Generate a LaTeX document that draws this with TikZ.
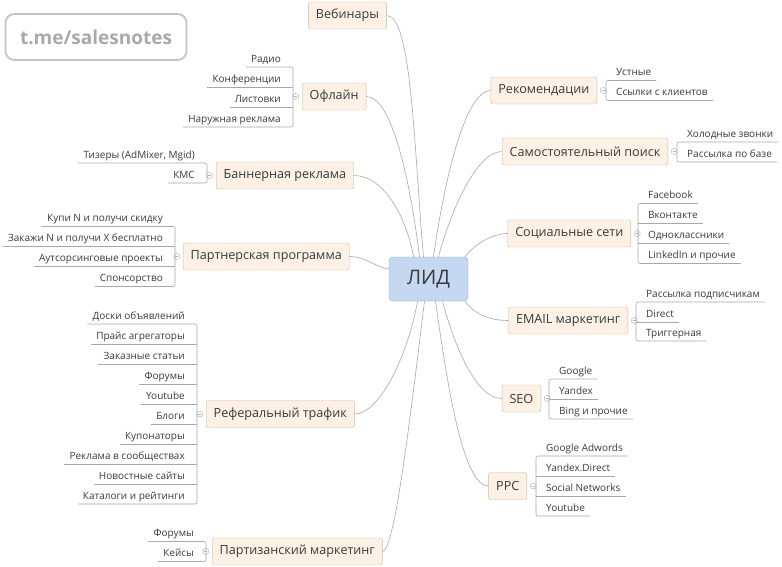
\documentclass[tikz,border=0pt]{standalone}
\usepackage{fontspec}
\setmainfont{Open Sans}
\usepackage{tikz}
\usetikzlibrary{positioning}
\usepackage{xcolor}

\definecolor{boxfill}{HTML}{FCF1E4}
\definecolor{boxline}{HTML}{C9BBA8}
\definecolor{leadfill}{HTML}{C4D8F2}
\definecolor{leadline}{HTML}{8EA6C4}
\definecolor{wiregray}{HTML}{A8A8A8}
\definecolor{ink}{HTML}{3A3A3A}
\definecolor{knobgray}{HTML}{B4B4B4}
\definecolor{stampline}{HTML}{C4C4C4}
\definecolor{stamptext}{HTML}{A9A9A9}

\tikzset{
  topic/.style={draw=boxline, fill=boxfill, rounded corners=2, minimum height=27,
    inner xsep=7.5, text=ink, font=\fontsize{12.6}{15}\selectfont},
  leadbox/.style={draw=leadline, fill=leadfill, rounded corners=4, minimum width=79,
    minimum height=44, text=ink, font=\fontsize{20}{22}\selectfont},
  lleaf/.style={anchor=south east, inner xsep=0, inner ysep=2, text depth=2.5, text=ink,
    font=\fontsize{10}{12}\selectfont,
    execute at begin node={\hspace*{5pt}}, execute at end node={\hspace*{12pt}}},
  rleaf/.style={anchor=south west, inner xsep=0, inner ysep=2, text depth=2.5, text=ink,
    font=\fontsize{10}{12}\selectfont,
    execute at begin node={\hspace*{10pt}}, execute at end node={\hspace*{5pt}}},
  link/.style={draw=wiregray, line width=0.6},
  knob/.style={circle, draw=knobgray, line width=0.5, minimum size=6, inner sep=0,
    path picture={\draw[knobgray, line width=0.5] ([xshift=-1.6pt]path picture bounding box.center)
      -- ([xshift=1.6pt]path picture bounding box.center);}},
  stamp/.style={draw=stampline, line width=1.8, rounded corners=9, minimum width=181,
    minimum height=46, text=stamptext, font=\bfseries\fontsize{19}{21}\selectfont}
}

\begin{document}
\begin{tikzpicture}[x=1pt, y=-1pt]
    \useasboundingbox (0,0) rectangle (782,567);

    % Watermark
    \node[stamp] (stamp) at (96,37) {t.me/salesnotes};

    % Centre
    \node[leadbox] (lead) at (428.5,279) {ЛИД};

    % Topics on the left
    \node[topic] (web) at (347.5,15.5) {Вебинары};
    \node[topic, anchor=west] (off) at (302,96.5) {Офлайн};
    \node[topic, anchor=west] (ban) at (216,175.5) {Баннерная реклама};
    \node[topic, anchor=west] (part) at (183,256.5) {Партнерская программа};
    \node[topic, anchor=west] (ref) at (206,414) {Реферальный трафик};
    \node[topic, anchor=west] (guer) at (212,551.5) {Партизанский маркетинг};

    % Topics on the right
    \node[topic, anchor=east] (rec) at (597,90.5) {Рекомендации};
    \node[topic, anchor=east] (self) at (668,151.5) {Самостоятельный поиск};
    \node[topic, anchor=east] (soc) at (631,233.5) {Социальные сети};
    \node[topic, anchor=east] (email) at (628,320.5) {EMAIL маркетинг};
    \node[topic, anchor=east] (seo) at (541,398.5) {SEO};
    \node[topic, anchor=east] (ppc) at (527,486) {PPC};

    % Collapse knobs
    \node[knob, left=3pt of off] (offk) {};
    \node[knob, left=3pt of ban] (bank) {};
    \node[knob, left=3pt of part] (partk) {};
    \node[knob, left=3pt of ref] (refk) {};
    \node[knob, left=3pt of guer] (guerk) {};
    \node[knob, right=3pt of rec] (reck) {};
    \node[knob, right=3pt of self] (selfk) {};
    \node[knob, right=3pt of soc] (sock) {};
    \node[knob, right=3pt of email] (emailk) {};
    \node[knob, right=3pt of seo] (seok) {};
    \node[knob, right=3pt of ppc] (ppck) {};

    % Connectors from the centre
    \draw[link] ([xshift=-5]lead.north) to[out=95, in=0, out distance=110, in distance=25] (web.east);
    \draw[link] ([xshift=-9]lead.north) to[out=97, in=0, out distance=80, in distance=25] (off.east);
    \draw[link] ([xshift=-15]lead.north) to[out=100, in=0, out distance=40, in distance=30] (ban.east);
    \draw[link] ([yshift=10]lead.west) to[out=170, in=0] (part.east);
    \draw[link] ([xshift=-11]lead.south) to[out=-100, in=0, out distance=55, in distance=25] (ref.east);
    \draw[link] ([xshift=-4]lead.south) to[out=-97, in=0, out distance=120, in distance=12] (guer.east);
    \draw[link] ([xshift=5]lead.north) to[out=82, in=180, out distance=80, in distance=25] (rec.west);
    \draw[link] ([xshift=10]lead.north) to[out=75, in=180, out distance=50, in distance=25] (self.west);
    \draw[link] ([xshift=-3]lead.north east) to[out=55, in=180, out distance=15, in distance=15] (soc.west);
    \draw[link] ([xshift=-3]lead.south east) to[out=-55, in=180, out distance=15, in distance=20] (email.west);
    \draw[link] ([xshift=14]lead.south) to[out=-75, in=180, out distance=50, in distance=25] (seo.west);
    \draw[link] ([xshift=7]lead.south) to[out=-82, in=180, out distance=90, in distance=25] (ppc.west);

    % Офлайн leaves
    \node[lleaf] (off1) at (293,67) {Радио};
    \node[lleaf] (off2) at (293,87) {Конференции};
    \node[lleaf] (off3) at (293,107) {Листовки};
    \node[lleaf] (off4) at (293,127) {Наружная реклама};
    \draw[link, rounded corners=2] (off1.south west) -- (off1.south east) -- (off4.south east) -- (off4.south west);
    \draw[link] (off2.south west) -- (off2.south east);
    \draw[link] (off3.south west) -- (off3.south east);

    % Баннерная реклама leaves
    \node[lleaf] (ban1) at (207,163) {Тизеры (AdMixer, Mgid)};
    \node[lleaf] (ban2) at (207,183) {КМС};
    \draw[link, rounded corners=2] (ban1.south west) -- (ban1.south east) -- (ban2.south east) -- (ban2.south west);

    % Партнерская программа leaves
    \node[lleaf] (part1) at (175,226.5) {Купи N и получи скидку};
    \node[lleaf] (part2) at (175,246.5) {Закажи N и получи X бесплатно};
    \node[lleaf] (part3) at (175,266.5) {Аутсорсинговые проекты};
    \node[lleaf] (part4) at (175,286.5) {Спонсорство};
    \draw[link, rounded corners=2] (part1.south west) -- (part1.south east) -- (part4.south east) -- (part4.south west);
    \draw[link] (part2.south west) -- (part2.south east);
    \draw[link] (part3.south west) -- (part3.south east);

    % Реферальный трафик leaves
    \node[lleaf] (ref1) at (197,324) {Доски объявлений};
    \node[lleaf] (ref2) at (197,344) {Прайс агрегаторы};
    \node[lleaf] (ref3) at (197,364) {Заказные статьи};
    \node[lleaf] (ref4) at (197,384) {Форумы};
    \node[lleaf] (ref5) at (197,404) {Youtube};
    \node[lleaf] (ref6) at (197,424) {Блоги};
    \node[lleaf] (ref7) at (197,444) {Купонаторы};
    \node[lleaf] (ref8) at (197,464) {Реклама в сообществах};
    \node[lleaf] (ref9) at (197,484) {Новостные сайты};
    \node[lleaf] (ref10) at (197,504) {Каталоги и рейтинги};
    \draw[link, rounded corners=2] (ref1.south west) -- (ref1.south east) -- (ref10.south east) -- (ref10.south west);
    \draw[link] (ref2.south west) -- (ref2.south east);
    \draw[link] (ref3.south west) -- (ref3.south east);
    \draw[link] (ref4.south west) -- (ref4.south east);
    \draw[link] (ref5.south west) -- (ref5.south east);
    \draw[link] (ref6.south west) -- (ref6.south east);
    \draw[link] (ref7.south west) -- (ref7.south east);
    \draw[link] (ref8.south west) -- (ref8.south east);
    \draw[link] (ref9.south west) -- (ref9.south east);

    % Партизанский маркетинг leaves
    \node[lleaf] (guer1) at (206,541.5) {Форумы};
    \node[lleaf] (guer2) at (206,561.5) {Кейсы};
    \draw[link, rounded corners=2] (guer1.south west) -- (guer1.south east) -- (guer2.south east) -- (guer2.south west);

    % Рекомендации leaves
    \node[rleaf] (rec1) at (606,80.5) {Устные};
    \node[rleaf] (rec2) at (606,100.5) {Ссылки с клиентов};
    \draw[link, rounded corners=2] (rec1.south east) -- (rec1.south west) -- (rec2.south west) -- (rec2.south east);

    % Самостоятельный поиск leaves
    \node[rleaf] (self1) at (677,142) {Холодные звонки};
    \node[rleaf] (self2) at (677,162) {Рассылка по базе};
    \draw[link, rounded corners=2] (self1.south east) -- (self1.south west) -- (self2.south west) -- (self2.south east);

    % Социальные сети leaves
    \node[rleaf] (soc1) at (638,203.5) {Facebook};
    \node[rleaf] (soc2) at (638,223.5) {Вконтакте};
    \node[rleaf] (soc3) at (638,243.5) {Одноклассники};
    \node[rleaf] (soc4) at (638,263.5) {LinkedIn и прочие};
    \draw[link, rounded corners=2] (soc1.south east) -- (soc1.south west) -- (soc4.south west) -- (soc4.south east);
    \draw[link] (soc2.south west) -- (soc2.south east);
    \draw[link] (soc3.south west) -- (soc3.south east);

    % EMAIL маркетинг leaves
    \node[rleaf] (email1) at (636,302) {Рассылка подписчикам};
    \node[rleaf] (email2) at (636,322) {Direct};
    \node[rleaf] (email3) at (636,341) {Триггерная};
    \draw[link, rounded corners=2] (email1.south east) -- (email1.south west) -- (email3.south west) -- (email3.south east);
    \draw[link] (email2.south west) -- (email2.south east);

    % SEO leaves
    \node[rleaf] (seo1) at (549,379) {Google};
    \node[rleaf] (seo2) at (549,399) {Yandex};
    \node[rleaf] (seo3) at (549,419) {Bing и прочие};
    \draw[link, rounded corners=2] (seo1.south east) -- (seo1.south west) -- (seo3.south west) -- (seo3.south east);
    \draw[link] (seo2.south west) -- (seo2.south east);

    % PPC leaves
    \node[rleaf] (ppc1) at (536,456) {Google Adwords};
    \node[rleaf] (ppc2) at (536,476) {Yandex.Direct};
    \node[rleaf] (ppc3) at (536,496) {Social Networks};
    \node[rleaf] (ppc4) at (536,516) {Youtube};
    \draw[link, rounded corners=2] (ppc1.south east) -- (ppc1.south west) -- (ppc4.south west) -- (ppc4.south east);
    \draw[link] (ppc2.south west) -- (ppc2.south east);
    \draw[link] (ppc3.south west) -- (ppc3.south east);
\end{tikzpicture}
\end{document}
